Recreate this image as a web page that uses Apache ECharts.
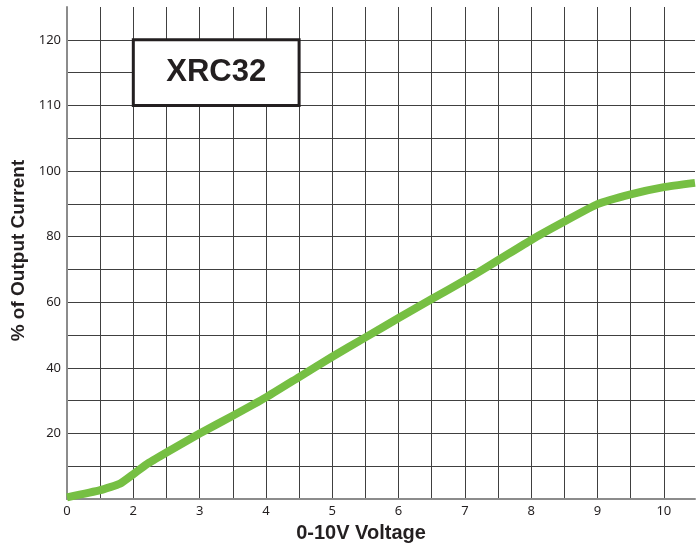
<!DOCTYPE html>
<html>
<head>
<meta charset="utf-8">
<script src="https://cdn.jsdelivr.net/npm/echarts@6/dist/echarts.min.js"></script>
<style>
  html, body { margin: 0; padding: 0; background: #fff; }
  #chart { width: 698px; height: 548px; }
</style>
</head>
<body>
<div id="chart"></div>
<script>
// Axis scale positions (the first tick, labelled "0", sits one unit left of "2")
const voltage = [1.0, 1.5, 1.8, 2.0, 2.2, 2.5, 3.0, 3.5, 4.0, 4.5, 5.0, 5.5, 6.0, 6.5, 7.0, 7.5, 8.0, 8.5, 9.0, 9.5, 10.0, 10.47];
const outputCurrent = [0.5, 2.7, 4.7, 7.6, 10.6, 14.2, 20.0, 25.4, 31.0, 37.2, 43.4, 49.3, 55.2, 61.0, 66.7, 72.8, 79.0, 84.6, 89.9, 92.9, 95.1, 96.4];

const xTickValues = [1, 2, 3, 4, 5, 6, 7, 8, 9, 10];
const xTickLabels = ['0', '2', '3', '4', '5', '6', '7', '8', '9', '10'];
const yTickValues = [20, 40, 60, 80, 100, 120, 140];
const yTickLabels = ['20', '40', '60', '80', '100', '110', '120'];

const titleText = 'XRC32';
const xName = '0-10V Voltage';
const yName = '% of Output Current';
const titleBox = { x: [2, 4.5], y: [140, 120] };

const chart = echarts.init(document.getElementById('chart'), null, { renderer: 'canvas' });

function lookup(values, labels, v) {
  const r = Math.round(v * 100) / 100;
  const i = values.indexOf(r);
  return i >= 0 ? labels[i] : '';
}

const gridLine = { show: true, showMinLine: false, showMaxLine: false, lineStyle: { color: '#404040', width: 1 } };

chart.setOption({
  animation: false,
  backgroundColor: '#fff',
  grid: { left: 67, right: 0, top: 7, bottom: 43, containLabel: false },
  xAxis: {
    type: 'value',
    min: 1, max: 10.47, interval: 0.5,
    name: xName,
    nameLocation: 'middle',
    nameGap: 20,
    nameTextStyle: { fontFamily: 'Liberation Sans', fontWeight: 'bold', fontSize: 20, color: '#231f20', padding: [0, 40, 0, 0] },
    axisLine: { show: true, lineStyle: { color: '#8c8c8c', width: 2 } },
    axisTick: { show: false },
    splitLine: gridLine,
    axisLabel: {
      margin: 6,
      fontFamily: 'Noto Sans', fontSize: 13, color: '#231f20',
      showMaxLabel: true, showMinLabel: true,
      formatter: v => lookup(xTickValues, xTickLabels, v)
    }
  },
  yAxis: {
    type: 'value',
    min: 0, max: 150, interval: 10,
    name: yName,
    nameLocation: 'middle',
    nameGap: 33,
    nameTextStyle: { fontFamily: 'Liberation Sans', fontWeight: 'bold', fontSize: 19, color: '#231f20', padding: [0, 0, 0, 5] },
    axisLine: { show: true, lineStyle: { color: '#8c8c8c', width: 2 } },
    axisTick: { show: false },
    splitLine: gridLine,
    axisLabel: {
      margin: 6,
      fontFamily: 'Noto Sans', fontSize: 13, color: '#231f20',
      formatter: v => lookup(yTickValues, yTickLabels, v)
    }
  },
  series: [{
    type: 'line',
    data: voltage.map((v, i) => [v, outputCurrent[i]]),
    showSymbol: false,
    smooth: 0.15,
    lineStyle: { color: '#76bf43', width: 8, cap: 'butt', join: 'round' },
    silent: true,
    markArea: {
      silent: true,
      itemStyle: { color: '#ffffff', opacity: 1, borderColor: '#231f20', borderWidth: 3 },
      label: {
        show: true, position: 'inside',
        fontFamily: 'Liberation Sans', fontWeight: 'bold', fontSize: 31, color: '#231f20'
      },
      data: [[
        { name: titleText, coord: [titleBox.x[0], titleBox.y[0]] },
        { coord: [titleBox.x[1], titleBox.y[1]] }
      ]]
    }
  }]
});
</script>
</body>
</html>
